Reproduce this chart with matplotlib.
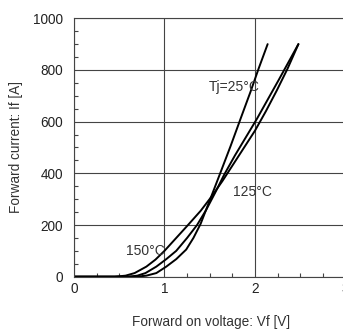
import matplotlib
matplotlib.use("Agg")
import matplotlib.pyplot as plt
from matplotlib.ticker import MultipleLocator

plt.rcParams['font.family'] = ['Liberation Sans', 'DejaVu Sans']

# forward characteristics
vf_25 = [0, 0.7, 0.8, 0.91, 1.02, 1.13, 1.24, 1.32, 1.40, 1.50, 1.61, 1.73, 1.85, 1.95, 2.04, 2.14]
if_25 = [0, 0, 4, 14, 39, 68, 105, 150, 205, 295, 395, 505, 620, 715, 805, 900]

vf_125 = [0, 0.6, 0.7, 0.79, 0.91, 1.02, 1.13, 1.25, 1.36, 1.46, 1.56, 1.66, 1.78, 1.90, 2.02, 2.14, 2.26, 2.37, 2.48]
if_125 = [0, 0, 4, 14, 39, 68, 100, 150, 200, 258, 325, 395, 470, 540, 610, 685, 760, 830, 900]

vf_150 = [0, 0.45, 0.57, 0.67, 0.80, 0.90, 1.00, 1.13, 1.26, 1.40, 1.52, 1.64, 1.76, 1.88, 2.00, 2.12, 2.24, 2.36, 2.48]
if_150 = [0, 0, 4, 14, 39, 66, 100, 150, 200, 255, 310, 370, 435, 500, 565, 640, 720, 805, 900]

x_ticks = [0, 1, 2, 3]
y_ticks = [0, 200, 400, 600, 800, 1000]

fig = plt.figure(figsize=(3.43, 3.29), dpi=100)
ax = fig.add_axes([0.2157, 0.159, 0.7915, 0.7854])

for v, i in [(vf_25, if_25), (vf_125, if_125), (vf_150, if_150)]:
    ax.plot(v, i, color='black', lw=1.4, solid_capstyle='round', solid_joinstyle='round')

ax.set_xlim(0, 3)
ax.set_ylim(0, 1000)
ax.set_xticks(x_ticks)
ax.set_yticks(y_ticks)
ax.xaxis.set_minor_locator(MultipleLocator(0.25))
ax.yaxis.set_minor_locator(MultipleLocator(50))
ax.tick_params(which='major', length=0, labelsize=9.8, colors='#222222')
ax.tick_params(axis='x', which='major', pad=4)
ax.tick_params(axis='y', which='major', pad=8)
ax.tick_params(which='minor', direction='in', length=3, width=0.8, color='#444444')
ax.grid(True, which='major', color='#444444', lw=0.8)
ax.spines['right'].set_visible(False)
for s in ['left', 'top', 'bottom']:
    ax.spines[s].set_color('#444444')
    ax.spines[s].set_linewidth(0.8)

ax.set_xlabel('Forward on voltage: Vf [V]', fontsize=9.8, color='#333333')
ax.set_ylabel('Forward current: If [A]', fontsize=9.8, color='#333333')
ax.xaxis.set_label_coords(0.505, -0.148)
ax.yaxis.set_label_coords(-0.186, 0.503)

ax.text(1.49, 733, 'Tj=25°C', fontsize=10, color='#333333', va='center')
ax.text(1.76, 329, '125°C', fontsize=10, color='#333333', va='center')
ax.text(0.58, 100, '150°C', fontsize=10, color='#333333', va='center')

fig.savefig('out.png', dpi=100)
